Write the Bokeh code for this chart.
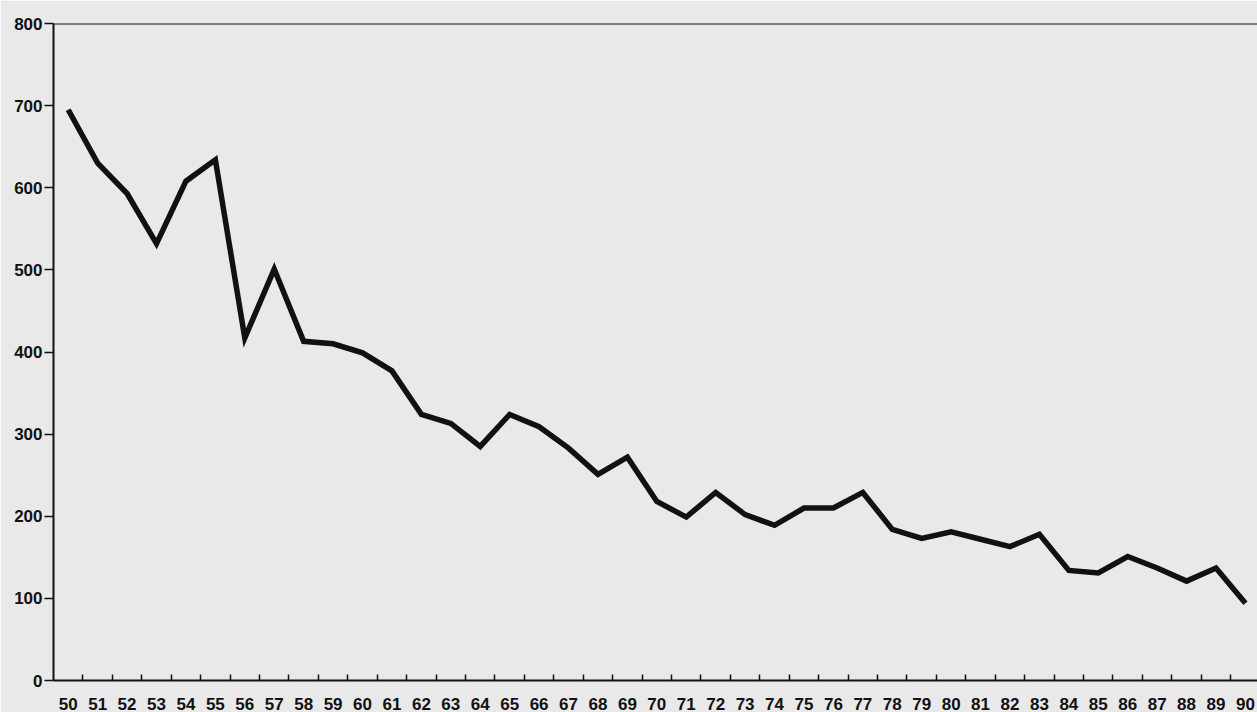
from bokeh.plotting import figure
from bokeh.models import Range1d, FixedTicker, Span, ColumnDataSource
from bokeh.embed import file_html
from bokeh.resources import INLINE

years = list(range(50, 91))
year_labels = [str(y) for y in years]
values = [695, 630, 593, 532, 608, 634, 417, 501, 413, 410,
          399, 377, 324, 313, 285, 324, 309, 283, 251, 272,
          218, 199, 229, 202, 189, 210, 210, 229, 184, 173,
          181, 172, 163, 178, 134, 131, 151, 137, 121, 137, 94]
y_ticks = [0, 100, 200, 300, 400, 500, 600, 700, 800]

FONT = "Liberation Sans"

p = figure(width=1257, height=712, output_backend="svg", toolbar_location=None,
           x_range=Range1d(49.5, 90.41), y_range=Range1d(0, 800),
           min_border_left=53, min_border_right=0, min_border_top=23, min_border_bottom=32)
p.background_fill_color = "#e9e9e9"
p.border_fill_color = "#e9e9e9"
p.outline_line_color = None
p.grid.visible = False

src = ColumnDataSource(dict(x=years, y=values))
p.line("x", "y", source=src, line_color="#111111", line_width=5.5, line_join="miter")

p.add_layout(Span(location=800, dimension="width", line_color="#111111", line_width=2))

xa = p.xaxis[0]
xa.ticker = FixedTicker(ticks=years, minor_ticks=[y + 0.5 for y in years[:-1]])
xa.major_label_overrides = {y: l for y, l in zip(years, year_labels)}
xa.major_tick_line_color = None
xa.minor_tick_in = 6
xa.minor_tick_out = 0
xa.minor_tick_line_width = 1.5
xa.minor_tick_line_color = "#111111"
xa.axis_line_width = 2
xa.axis_line_color = "#111111"
xa.major_label_text_font = FONT
xa.major_label_text_font_style = "bold"
xa.major_label_text_font_size = "17px"
xa.major_label_text_color = "#111111"
xa.major_label_standoff = 11

ya = p.yaxis[0]
ya.ticker = FixedTicker(ticks=y_ticks)
ya.minor_tick_line_color = None
ya.major_tick_in = 0
ya.major_tick_out = 9
ya.major_tick_line_width = 1.5
ya.major_tick_line_color = "#111111"
ya.axis_line_width = 2
ya.axis_line_color = "#111111"
ya.major_label_text_font = FONT
ya.major_label_text_font_style = "bold"
ya.major_label_text_font_size = "17px"
ya.major_label_text_color = "#111111"
ya.major_label_standoff = 2

open("out.html", "w").write(file_html(p, INLINE))
